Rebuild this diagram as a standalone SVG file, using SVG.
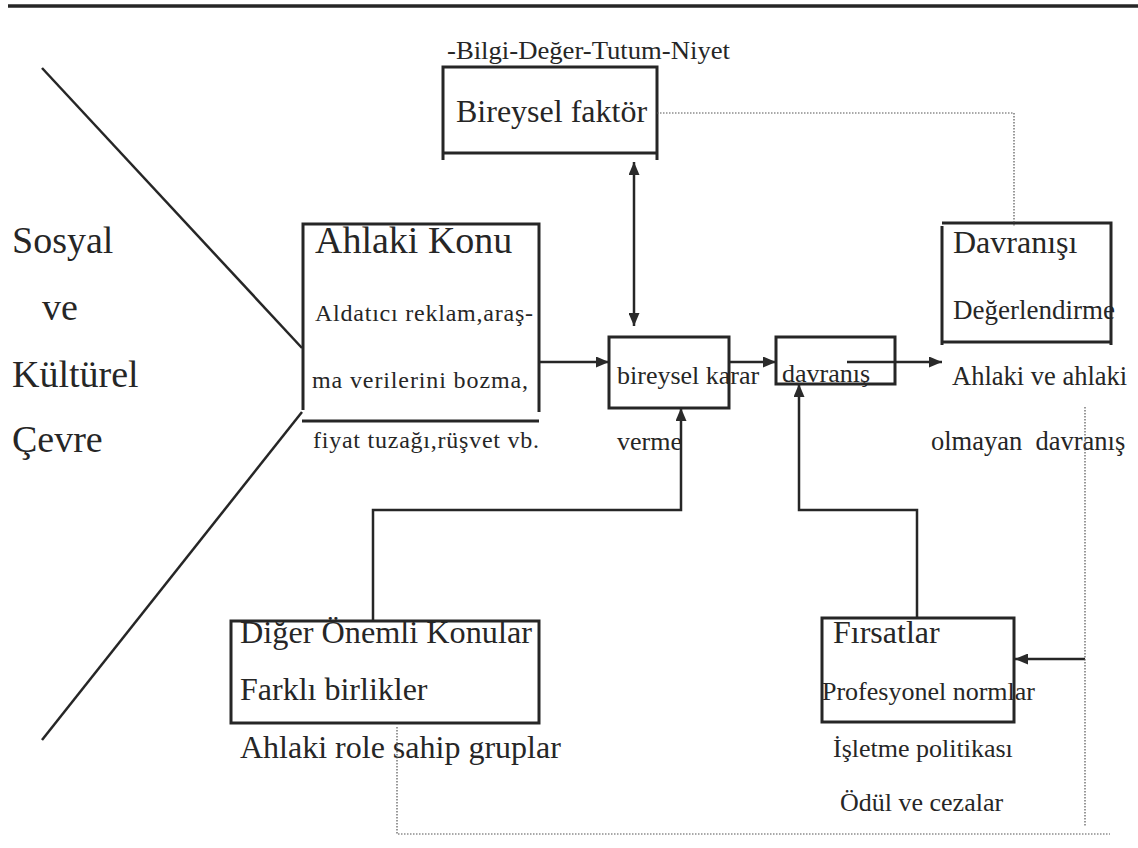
<svg xmlns="http://www.w3.org/2000/svg" width="1138" height="848" viewBox="0 0 1138 848">
<defs>
<marker id="ah" viewBox="0 0 13 11" refX="13" refY="5.5" markerWidth="13" markerHeight="11" markerUnits="userSpaceOnUse" orient="auto-start-reverse">
<path d="M0,0 L13,5.5 L0,11 Z" fill="#2a2a2a"/>
</marker>
<style>
.t{font-family:"Liberation Serif","Times New Roman",serif;fill:#262626}
.b{fill:none;stroke:#262626;stroke-width:3}
.c{fill:none;stroke:#262626;stroke-width:2.5}
.d{fill:none;stroke:#555;stroke-width:1.2;stroke-dasharray:1.5 1.5}
</style>
</defs>
<rect width="1138" height="848" fill="#fff"/>
<line x1="8" y1="6" x2="1138" y2="6" stroke="#262626" stroke-width="3.5"/>

<g id="env">
<line class="c" x1="42" y1="68" x2="302" y2="348"/>
<line class="c" x1="302" y1="412" x2="42" y2="740"/>
<text class="t" x="12" y="253" font-size="38">Sosyal</text>
<text class="t" x="42" y="320" font-size="38">ve</text>
<text class="t" x="12" y="387" font-size="38">Kültürel</text>
<text class="t" x="12" y="452" font-size="38">Çevre</text>
</g>

<g id="bireysel-faktor">
<text class="t" x="447" y="59" font-size="26" textLength="283" lengthAdjust="spacingAndGlyphs">-Bilgi-Değer-Tutum-Niyet</text>
<path class="b" d="M443,160 V67 H657 V160 M443,153 H657"/>
<text class="t" x="456" y="122" font-size="32">Bireysel faktör</text>
</g>

<g id="ahlaki-konu">
<path class="b" d="M303,410 V224 H539 V412 M302,421 H539"/>
<text class="t" x="315" y="253" font-size="38">Ahlaki Konu</text>
<text class="t" x="315" y="321" font-size="24" textLength="218" lengthAdjust="spacing">Aldatıcı reklam,araş-</text>
<text class="t" x="312" y="388" font-size="24" textLength="216" lengthAdjust="spacing">ma verilerini bozma,</text>
<text class="t" x="313" y="448" font-size="24" textLength="226" lengthAdjust="spacing">fiyat tuzağı,rüşvet vb.</text>
</g>

<g id="bireysel-karar">
<rect class="b" x="609" y="337" width="120" height="71"/>
<text class="t" x="617" y="384" font-size="26">bireysel karar</text>
<text class="t" x="617" y="450" font-size="26">verme</text>
</g>

<g id="davranis">
<rect class="b" x="776" y="337" width="119" height="47"/>
<text class="t" x="782" y="382" font-size="26">davranış</text>
</g>

<g id="davranisi-degerlendirme">
<path class="b" d="M942,345 V226 M942,223 H1111 V345 M942,342 H1111"/>
<text class="t" x="953" y="253" font-size="32">Davranışı</text>
<text class="t" x="953" y="319" font-size="27">Değerlendirme</text>
<text class="t" x="952" y="385" font-size="26.5">Ahlaki ve ahlaki</text>
<text class="t" x="931" y="450" font-size="26.5" xml:space="preserve">olmayan  davranış</text>
</g>

<g id="diger">
<rect class="b" x="231" y="621" width="308" height="102"/>
<text class="t" x="240" y="643" font-size="31" textLength="292" lengthAdjust="spacingAndGlyphs">Diğer Önemli Konular</text>
<text class="t" x="240" y="700" font-size="32">Farklı birlikler</text>
<text class="t" x="240" y="758" font-size="32">Ahlaki role sahip gruplar</text>
</g>

<g id="firsatlar">
<rect class="b" x="822" y="618" width="192" height="104"/>
<text class="t" x="833" y="643" font-size="32">Fırsatlar</text>
<text class="t" x="822" y="700" font-size="26">Profesyonel normlar</text>
<text class="t" x="833" y="757" font-size="26">İşletme politikası</text>
<text class="t" x="840" y="811" font-size="26">Ödül ve cezalar</text>
</g>

<g id="connectors">
<line class="c" x1="539" y1="362" x2="609" y2="362" marker-end="url(#ah)"/>
<line class="c" x1="729" y1="362" x2="776" y2="362" marker-end="url(#ah)"/>
<line class="c" x1="847" y1="362" x2="942" y2="362" marker-end="url(#ah)"/>
<line class="c" x1="634" y1="162" x2="634" y2="326" marker-start="url(#ah)" marker-end="url(#ah)"/>
<path class="c" d="M373,621 V510 H681 V408" marker-end="url(#ah)"/>
<path class="c" d="M917,618 V510 H799 V384" marker-end="url(#ah)"/>
<line class="c" x1="1085" y1="659" x2="1015" y2="659" marker-end="url(#ah)"/>
<path class="d" d="M657,113 H1014 V227"/>
<path class="d" d="M1085,407 V826"/>
<path class="d" d="M397,727 V834 H1110"/>
</g>
</svg>
